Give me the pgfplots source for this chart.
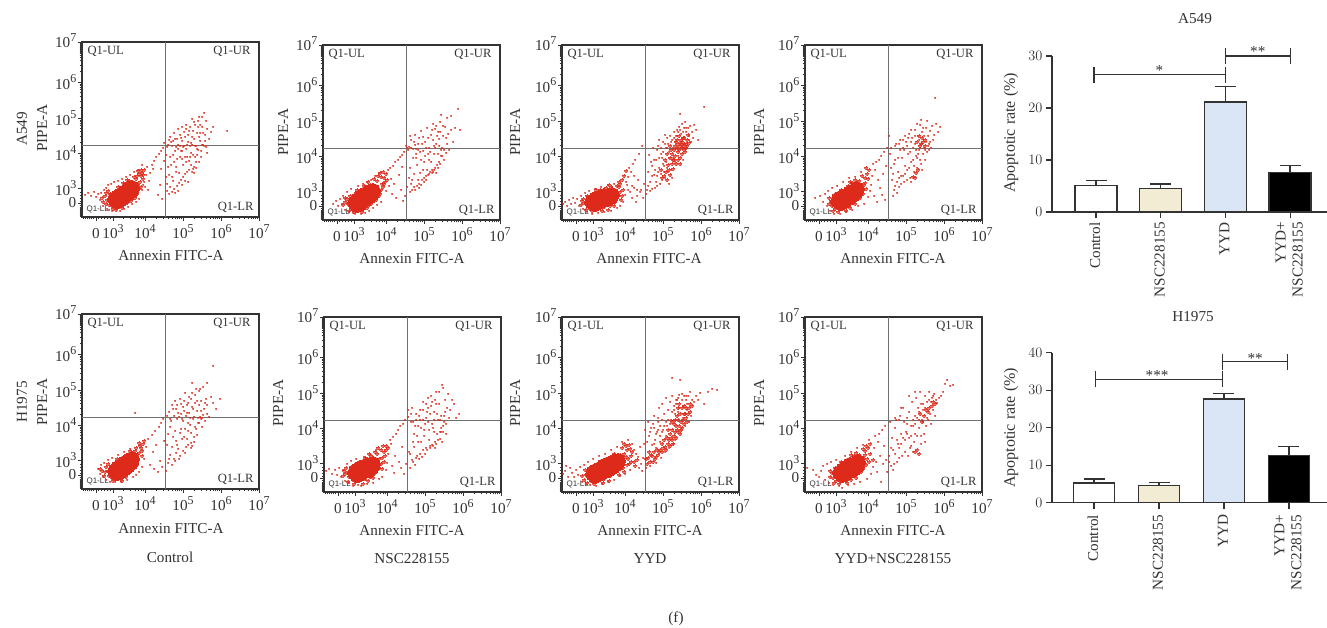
\documentclass[border=0pt]{standalone}
\usepackage{pgfplots}
\pgfplotsset{compat=1.18}
\usepackage{fontspec}
\setmainfont{Liberation Serif}
\setsansfont{Liberation Sans}
\definecolor{ink}{HTML}{333333}
\definecolor{gate}{HTML}{707070}
\definecolor{fcs}{HTML}{DE2A1A}
\definecolor{beige}{HTML}{F2ECD5}
\definecolor{pale}{HTML}{DAE6F5}
\newcommand\tp[1]{10\raisebox{0.42em}{\fontsize{12}{12}\selectfont #1}}
\newcommand\lab{\fontsize{15.2}{17}\selectfont}
% Flow-cytometry display scale: one unit = one pixel along the biexponential axis.
% #1 left, #2 bottom (y up), #3 dense core, #4 dense fringe, #5 scattered events
\newcommand\panel[5]{%
\begin{axis}[at={(#1pt,#2pt)},anchor=south west,scale only axis,width=177pt,height=175pt,
 xmin=0,xmax=177,ymin=0,ymax=175,axis line style={ink,line width=1.3pt},
 tick pos=left,tick align=outside,tick style={ink,line width=.8pt},
 major tick length=4pt,minor tick length=2.5pt,
 xtick={14,31,63,101,139,177},xticklabels={0,\tp3,\tp4,\tp5,\tp6,\tp7},
 ytick={14,29,64,99,135,175},yticklabels={0,\tp3,\tp4,\tp5,\tp6,\raisebox{3pt}{\tp7}},
 minor xtick={1,3,5,7,9,11,16,19,22,25,28,41,48,53,56,59,61,74,81,86,90,93,95,97,99,112,119,124,128,131,133,135,137,150,157,162,166,169,171,173,175},
 minor ytick={1,2,3,4,5,6,7,8,9,10,12,16,19,22,25,40,46,51,54,57,59,61,62,75,81,86,89,92,94,96,97,110,116,121,125,128,130,132,133,146,152,157,160,162,164,165,166,167,168,169,170,171,172,173,174},
 ticklabel style={font=\lab,text=ink},
 tick label style={inner sep=1.5pt},
 xticklabel style={anchor=base,yshift=-18pt},
 clip=true]
\addplot[only marks,color=fcs,mark=*,mark size=7.3pt,mark options={fill=fcs,line width=0pt}] coordinates {#3};
\addplot[only marks,color=fcs,opacity=.7,mark=*,mark size=1.4pt,mark options={fill=fcs,line width=0pt}] coordinates {#4};
\addplot[only marks,color=fcs,opacity=.45,mark=*,mark size=.7pt,mark options={fill=fcs,line width=0pt}] coordinates {#5};
\addplot[gate,line width=1pt] coordinates {(83,0)(83,175)};
\addplot[gate,line width=1pt] coordinates {(0,71)(177,71)};
\node[font=\fontsize{12.6}{14}\selectfont,text=ink,anchor=west] at (axis cs:2,166) {Q1-UL};
\node[font=\fontsize{12.6}{14}\selectfont,text=ink,anchor=east] at (axis cs:172,166) {Q1-UR};
\node[font=\fontsize{12.6}{14}\selectfont,text=ink,anchor=east] at (axis cs:175,10) {Q1-LR};
\node[font=\sffamily\fontsize{8}{9}\selectfont,text=ink,anchor=west] at (axis cs:1,8) {Q1-LL};
\end{axis}}
\begin{document}
\begin{tikzpicture}[x=1pt,y=1pt]
\path[use as bounding box] (0,0) rectangle (1327,628);
% A549 row
\panel{82}{411}
{(33,18)(35,16)(36,20)(38,17)(39,22)(42,20)(43,25)(46,23)(47,28)(49,26)(50,29)}
{(27,12)(25,17)(28,23)(30,11)(34,26)(37,10)(38,28)(42,13)(43,33)(47,17)(47,36)(50,20)(54,38)(55,23)(57,28)(58,35)(59,41)(60,44)(57,43)(61,38)(55,41)(53,19)(21,15)(23,21)(62,47)(59,47)(24,13)(26,26)(31,8)(36,30)(40,9)(41,34)(45,14)(45,37)(49,16)(52,40)(53,24)(56,32)(59,30)(61,42)(56,46)(20,19)(24,24)(34,7)}
{(3,22)(6,24)(9,21)(12,25)(14,20)(16,23)(18,17)(19,24)(21,11)(22,27)(24,29)(25,8)(26,32)(27,7)(29,33)(30,6)(32,35)(34,8)(36,36)(38,6)(40,38)(42,8)(44,40)(46,10)(48,42)(50,13)(52,45)(54,15)(56,47)(57,18)(60,27)(61,32)(63,30)(64,42)(65,50)(62,35)(60,52)(66,27)(68,44)(70,52)(67,36)(72,56)(74,60)(71,48)(76,22)(77,63)(78,32)(79,66)(80,18)(81,69)(79,48)(82,56)(84,40)(85,26)(86,72)(87,23)(88,30)(89,75)(90,25)(91,62)(92,28)(93,78)(94,50)(95,31)(96,72)(97,34)(98,82)(99,37)(100,58)(101,40)(102,85)(103,43)(104,68)(105,45)(106,75)(107,47)(108,90)(109,52)(110,80)(111,62)(112,95)(113,71)(114,55)(115,84)(116,67)(117,100)(118,76)(119,60)(120,90)(121,72)(122,104)(123,82)(124,70)(125,88)(127,78)(129,85)(131,90)(145,86)(82,74)(85,70)(88,80)(90,71)(92,84)(94,70)(96,88)(98,71)(100,76)(102,71)(104,92)(106,82)(108,71)(110,72)(112,78)(114,71)(116,90)(118,92)(120,72)(122,71)(98,60)(100,66)(104,55)(108,60)(112,50)(90,40)(94,45)(86,50)(88,60)(92,55)(96,68)(84,62)(106,35)(87,77)(91,76)(95,78)(99,79)(103,80)(107,86)(111,86)(113,92)(118,84)(101,52)(109,64)(115,62)(117,55)(105,60)(85,33)(87,42)(89,52)(91,36)(93,66)(95,58)(97,44)(99,66)(101,70)(103,60)(105,72)(107,56)(109,74)(111,48)(113,60)(115,68)(117,80)(119,66)(121,84)(123,76)(125,64)(93,24)(96,26)(100,32)(103,36)(110,45)(112,44)(114,49)(116,96)(110,98)(104,88)(100,90)(124,96)(120,100)}
\panel{323}{408}
{(32,17)(34,15)(35,20)(37,16)(38,23)(41,20)(43,26)(46,23)(47,28)(49,26)(50,29)}
{(25,16)(24,21)(27,24)(29,11)(33,27)(36,10)(38,30)(41,13)(43,33)(46,15)(47,35)(50,19)(54,39)(56,24)(58,30)(59,36)(61,42)(63,46)(58,43)(61,36)(55,44)(53,20)(22,18)(60,33)(64,40)(60,48)(20,15)(22,22)(26,9)(31,8)(34,30)(39,8)(41,34)(44,12)(45,38)(48,16)(51,41)(52,23)(55,31)(57,26)(62,38)(57,47)}
{(10,16)(13,19)(15,14)(17,21)(19,16)(20,24)(22,10)(24,28)(26,8)(28,31)(30,7)(32,6)(35,34)(38,6)(40,36)(42,7)(44,38)(46,9)(48,40)(50,12)(52,44)(54,15)(56,47)(58,18)(63,29)(66,34)(65,50)(67,52)(68,41)(69,26)(70,54)(71,36)(72,58)(73,22)(75,60)(76,45)(77,63)(78,30)(79,65)(80,19)(81,68)(79,53)(82,24)(83,74)(84,72)(85,70)(84,33)(86,73)(87,28)(88,80)(89,30)(90,71)(91,33)(92,85)(93,62)(94,34)(95,76)(96,36)(97,47)(98,89)(99,40)(100,69)(101,42)(102,78)(103,44)(104,92)(105,45)(106,60)(107,48)(108,85)(109,50)(110,96)(111,66)(112,52)(113,76)(114,55)(115,88)(116,58)(117,98)(118,64)(119,72)(120,84)(121,60)(122,93)(123,67)(124,76)(125,86)(126,70)(128,90)(130,78)(132,92)(135,111)(137,90)(124,102)(128,104)(118,105)(100,83)(92,75)(96,82)(88,72)(90,62)(94,55)(98,60)(102,64)(106,72)(108,58)(112,72)(114,84)(116,74)(93,71)(87,52)(91,46)(89,40)(105,82)(110,80)(112,91)(120,94)(116,81)(100,50)(95,40)(104,50)(113,47)(110,48)(118,70)(86,42)(88,36)(92,30)(96,32)(98,35)(101,38)(103,40)(106,46)(109,47)(111,50)(115,52)(117,56)(119,64)(121,70)(115,66)(111,74)(107,68)(103,72)(99,76)(95,70)(91,78)(87,84)(93,66)(97,68)(101,58)(105,66)(109,90)(113,94)(117,88)(123,82)}
\panel{562}{408}
{(30,18)(33,16)(34,21)(37,18)(38,22)(41,20)(42,24)(45,21)(46,24)(49,23)(50,25)}
{(22,17)(21,21)(25,24)(28,11)(32,27)(36,12)(38,30)(42,13)(44,32)(48,14)(49,33)(53,18)(57,33)(60,24)(61,30)(58,36)(60,40)(62,44)(64,49)(57,38)(102,44)(105,40)(108,45)(111,51)(114,56)(116,60)(118,62)(120,66)(122,70)(124,76)(125,80)(127,77)(118,74)(115,72)(112,70)(120,78)(122,82)(110,66)(114,78)(117,84)(124,72)(126,85)(108,62)(106,55)(112,60)(116,68)(113,64)(118,56)(110,56)(105,66)(108,74)(120,72)(116,76)(122,76)(123,68)(119,80)(19,15)(20,19)(24,10)(30,9)(34,30)(40,9)(46,10)(47,35)(52,14)(55,34)(59,20)(58,28)(113,74)(115,80)(119,76)(121,74)(117,70)(111,60)(107,50)(104,48)(100,42)(121,82)(125,74)(109,70)(103,60)(99,50)}
{(1,16)(3,18)(5,14)(7,20)(9,16)(11,22)(13,17)(15,21)(17,14)(19,24)(21,11)(23,27)(25,8)(27,29)(30,6)(33,31)(36,7)(39,33)(42,8)(46,35)(49,9)(52,36)(55,12)(58,14)(61,18)(63,25)(65,35)(66,43)(67,52)(68,28)(69,48)(70,22)(71,56)(72,32)(73,60)(74,18)(75,24)(76,40)(77,66)(78,28)(79,30)(80,74)(81,22)(82,36)(84,26)(85,30)(86,48)(87,65)(88,29)(89,58)(90,31)(91,72)(92,45)(93,32)(94,60)(95,34)(96,74)(97,52)(98,36)(99,66)(100,40)(101,78)(102,54)(103,42)(104,72)(105,82)(106,48)(107,62)(108,84)(109,50)(110,80)(111,72)(112,88)(113,58)(114,84)(115,90)(116,64)(117,93)(118,78)(119,86)(120,96)(121,60)(122,92)(123,98)(124,88)(125,72)(126,92)(127,84)(128,94)(129,78)(130,88)(131,82)(134,90)(136,80)(142,113)(118,106)(132,95)(100,62)(95,70)(92,60)(97,80)(103,85)(90,44)(96,48)(99,46)(101,56)(104,58)(106,76)(109,78)(111,62)(113,78)(115,84)(107,36)(110,42)(88,38)(86,34)(94,38)(64,38)(66,30)(70,34)(72,44)(75,30)(90,54)(93,50)(95,44)(97,62)(99,72)(101,68)(103,76)(105,72)(107,68)(102,48)(105,52)(112,82)(116,88)(118,90)(121,88)(124,92)(127,80)}
\panel{805}{408}
{(33,19)(36,17)(36,22)(39,19)(40,24)(44,22)(45,27)(48,25)(49,29)(51,28)(52,31)}
{(27,14)(26,19)(29,25)(30,11)(34,27)(37,11)(39,30)(43,14)(43,34)(48,17)(47,37)(52,21)(54,39)(58,26)(61,31)(60,37)(60,42)(62,46)(57,44)(64,50)(61,52)(63,41)(108,43)(111,47)(115,74)(118,78)(112,78)(120,74)(110,42)(113,50)(117,82)(120,80)(24,16)(24,22)(28,9)(33,8)(36,30)(41,9)(45,12)(45,38)(50,16)(50,40)(55,22)(57,30)(59,35)(116,76)(114,84)}
{(10,22)(15,24)(18,18)(20,26)(22,14)(23,29)(25,9)(27,32)(29,6)(32,34)(35,6)(38,38)(41,8)(44,42)(47,10)(50,43)(53,14)(56,48)(59,16)(63,23)(65,29)(66,35)(67,44)(68,56)(69,24)(70,50)(71,58)(72,18)(73,40)(74,60)(75,32)(76,64)(77,25)(78,46)(79,68)(80,20)(81,54)(82,72)(84,84)(85,66)(86,72)(87,40)(88,24)(89,30)(90,60)(91,76)(92,27)(93,48)(94,33)(95,70)(96,36)(97,62)(98,80)(99,38)(100,54)(101,78)(102,40)(103,66)(104,86)(105,42)(106,58)(107,82)(108,72)(109,48)(110,90)(111,64)(112,52)(113,84)(114,70)(115,95)(116,56)(117,88)(118,66)(119,72)(120,60)(121,92)(122,68)(123,84)(124,76)(125,89)(126,72)(127,94)(128,80)(129,85)(131,96)(130,122)(135,93)(133,88)(116,100)(122,99)(112,96)(118,92)(100,84)(95,80)(90,74)(94,76)(98,72)(102,74)(106,78)(110,76)(114,80)(108,60)(112,62)(115,60)(105,68)(100,46)(96,44)(92,38)(88,46)(120,70)(117,50)(124,70)(110,84)(106,90)(86,52)(90,34)(94,42)(98,44)(102,50)(104,52)(106,38)(109,54)(111,70)(113,66)(115,72)(117,76)(119,84)(121,78)(123,74)(125,78)(103,82)(99,70)(93,62)(89,56)}
% H1975 row
\panel{82}{139}
{(33,18)(35,16)(36,21)(38,17)(39,23)(42,20)(43,26)(46,23)(47,28)(49,26)(50,30)}
{(27,13)(26,18)(29,23)(30,11)(33,26)(36,10)(38,28)(42,13)(42,32)(46,16)(47,35)(50,20)(53,38)(55,24)(56,30)(57,36)(59,41)(61,45)(58,43)(60,38)(54,41)(23,17)(24,22)(62,48)(20,18)(22,13)(26,25)(31,8)(35,30)(40,8)(44,34)(44,12)(48,38)(48,17)(52,22)(55,34)(60,33)(57,46)(18,20)}
{(16,20)(18,15)(19,24)(21,12)(22,26)(24,9)(26,29)(28,7)(30,31)(33,7)(36,34)(39,7)(42,37)(45,9)(48,40)(51,12)(54,14)(57,17)(60,22)(62,30)(64,42)(66,50)(68,24)(70,54)(71,37)(72,20)(73,58)(74,44)(76,17)(77,62)(78,28)(79,66)(80,22)(81,70)(82,48)(84,18)(85,73)(86,26)(87,77)(88,34)(89,68)(90,24)(91,80)(92,30)(93,58)(94,36)(95,84)(96,40)(97,72)(98,33)(99,85)(100,50)(101,38)(102,88)(103,60)(104,42)(105,76)(106,44)(107,92)(108,64)(109,46)(110,82)(111,70)(112,52)(113,94)(114,60)(115,78)(116,66)(117,98)(118,72)(119,88)(120,62)(121,102)(122,80)(123,68)(124,90)(125,75)(127,72)(129,92)(131,123)(134,80)(138,90)(131,86)(125,106)(110,106)(103,96)(93,88)(96,76)(100,70)(104,73)(108,71)(112,72)(116,71)(120,71)(88,70)(92,73)(95,70)(99,75)(101,82)(105,84)(109,90)(113,86)(117,84)(98,56)(102,52)(106,58)(110,43)(109,41)(112,47)(90,42)(94,48)(86,55)(53,76)(88,62)(106,66)(115,54)(119,70)(85,44)(87,30)(91,52)(93,28)(95,44)(97,30)(99,60)(101,68)(103,36)(105,50)(107,76)(109,56)(111,80)(113,62)(115,88)(117,66)(119,78)(121,74)(123,86)(125,84)(90,84)(94,80)(98,90)(102,78)(106,86)(110,96)(114,100)(118,100)}
\panel{324}{136}
{(31,19)(33,17)(34,22)(36,18)(37,24)(40,21)(42,26)(45,22)(46,27)(48,25)(49,28)}
{(25,15)(24,20)(27,25)(29,12)(32,28)(35,11)(38,30)(41,13)(43,33)(46,15)(47,36)(50,18)(53,38)(55,24)(57,28)(58,34)(60,40)(62,46)(57,42)(60,30)(54,44)(21,18)(22,24)(62,42)(64,44)(59,46)(19,16)(20,21)(24,10)(30,8)(35,30)(39,8)(41,34)(44,11)(45,38)(49,14)(51,40)(52,20)(55,33)(58,23)(61,36)}
{(2,21)(5,23)(8,18)(11,22)(13,17)(15,24)(17,15)(19,22)(21,11)(23,28)(25,9)(27,31)(29,6)(32,33)(34,7)(37,6)(40,35)(43,8)(46,38)(49,9)(52,42)(55,13)(58,15)(62,22)(63,29)(64,38)(66,52)(67,48)(68,26)(69,55)(70,19)(71,36)(72,58)(74,62)(75,30)(76,66)(77,24)(78,45)(79,68)(80,18)(81,72)(82,28)(84,75)(85,40)(86,24)(87,70)(88,84)(89,30)(90,58)(91,27)(92,78)(93,36)(94,66)(95,33)(96,82)(97,50)(98,35)(99,90)(100,62)(101,38)(102,74)(103,42)(104,84)(105,52)(106,44)(107,96)(108,68)(109,46)(110,80)(111,50)(112,100)(113,58)(114,72)(115,88)(116,53)(117,64)(118,107)(119,60)(120,76)(121,92)(122,68)(123,84)(124,98)(125,74)(126,82)(128,92)(130,88)(132,74)(135,78)(119,104)(112,88)(106,78)(102,88)(96,72)(92,72)(89,70)(87,78)(84,82)(99,72)(104,70)(110,72)(116,72)(120,70)(94,50)(100,56)(110,60)(116,60)(112,48)(86,38)(90,45)(104,94)(108,90)(115,100)(122,58)(118,50)(88,32)(92,34)(96,38)(99,42)(102,44)(106,46)(108,47)(111,44)(114,52)(117,60)(119,66)(121,80)(117,76)(113,78)(109,64)(105,62)(101,68)(97,64)(93,56)(89,50)(91,66)(95,76)(99,82)(103,80)(107,86)(111,92)}
\panel{562}{136}
{(31,18)(33,16)(34,21)(37,18)(38,23)(41,20)(42,26)(46,22)(47,28)(51,25)(52,30)(55,28)(56,31)}
{(24,17)(23,22)(27,24)(29,11)(33,27)(36,11)(38,30)(42,13)(44,33)(48,16)(50,36)(54,20)(58,37)(61,24)(65,27)(66,33)(69,36)(62,38)(65,42)(60,44)(62,48)(67,47)(70,40)(72,30)(75,32)(73,26)(85,28)(86,34)(88,30)(90,36)(93,33)(96,37)(98,42)(100,40)(103,45)(106,48)(108,46)(110,52)(112,56)(114,54)(116,60)(118,58)(120,64)(122,68)(119,70)(124,74)(126,78)(128,80)(122,78)(118,78)(116,72)(112,68)(110,62)(108,58)(114,66)(120,84)(124,84)(128,88)(130,86)(117,88)(105,54)(102,52)(100,48)(95,42)(92,40)(89,37)(106,62)(110,70)(20,16)(22,12)(25,9)(32,8)(41,9)(47,11)(52,38)(57,17)(62,20)(67,28)(64,35)(69,30)(68,43)(64,46)(84,33)(87,40)(91,30)(94,35)(97,40)(101,44)(104,42)(107,52)(109,54)(111,48)(113,60)(115,62)(117,66)(119,62)(121,72)(123,78)(125,70)(127,84)(115,76)(113,72)(116,84)(122,86)}
{(1,18)(3,21)(4,26)(6,15)(8,24)(10,19)(12,15)(14,22)(16,17)(18,25)(20,10)(22,27)(24,8)(26,30)(28,7)(31,33)(34,6)(37,36)(40,8)(43,38)(46,10)(49,42)(52,12)(55,45)(58,16)(60,50)(63,18)(66,52)(68,22)(70,48)(72,42)(74,38)(76,35)(77,24)(78,45)(79,28)(80,21)(81,34)(82,48)(83,62)(84,24)(85,50)(86,70)(87,56)(88,26)(89,64)(90,47)(91,68)(92,76)(93,52)(94,29)(95,60)(96,74)(97,84)(98,56)(99,34)(100,88)(101,62)(102,78)(103,40)(104,94)(105,66)(106,82)(107,44)(108,90)(109,72)(110,96)(111,48)(112,82)(113,52)(114,88)(115,92)(116,80)(117,97)(118,112)(119,62)(120,92)(121,74)(122,96)(123,66)(124,92)(125,88)(126,96)(127,70)(128,100)(129,76)(130,92)(132,90)(134,96)(136,92)(138,99)(142,88)(146,100)(150,103)(155,102)(110,114)(100,72)(96,70)(92,64)(88,60)(94,44)(98,50)(104,56)(113,78)(117,84)(121,86)(125,82)(92,48)(94,58)(96,62)(98,66)(100,60)(102,66)(104,70)(106,72)(108,68)(110,80)(112,86)(114,92)(116,94)(120,98)(124,96)}
\panel{805}{136}
{(35,19)(37,17)(38,22)(40,18)(41,24)(45,21)(45,27)(49,23)(50,28)(52,26)(53,30)}
{(28,14)(27,19)(30,24)(31,11)(35,27)(38,11)(39,30)(43,14)(44,33)(48,16)(49,36)(53,19)(54,37)(58,23)(61,27)(62,33)(60,37)(60,41)(63,44)(65,48)(58,43)(65,38)(68,32)(64,30)(130,88)(127,86)(124,84)(128,90)(121,82)(119,76)(115,78)(112,42)(114,38)(25,15)(25,21)(29,9)(34,8)(36,30)(42,9)(46,12)(46,37)(51,14)(51,39)(56,20)(58,34)(61,46)(123,80)(117,70)(110,40)}
{(2,24)(8,22)(11,17)(14,15)(16,21)(18,26)(20,12)(22,28)(24,9)(26,30)(28,7)(31,32)(34,6)(37,4)(40,36)(43,7)(46,40)(49,8)(52,44)(55,10)(58,47)(62,13)(64,52)(66,18)(68,25)(69,44)(70,56)(71,30)(72,20)(73,50)(74,58)(75,36)(76,10)(77,62)(78,28)(79,46)(80,66)(81,32)(82,20)(84,36)(85,70)(86,26)(87,54)(88,22)(89,28)(90,64)(91,72)(92,30)(93,48)(94,34)(95,76)(96,58)(97,36)(98,84)(99,70)(100,40)(101,60)(102,74)(103,36)(104,80)(105,44)(106,66)(107,90)(108,40)(109,50)(110,76)(111,94)(112,56)(113,84)(114,64)(115,100)(116,48)(117,72)(118,88)(119,58)(120,96)(121,66)(122,90)(123,72)(124,100)(125,78)(126,68)(127,94)(128,82)(129,98)(130,76)(131,92)(132,89)(134,94)(136,96)(138,100)(140,108)(142,112)(145,106)(148,107)(110,100)(104,96)(96,84)(90,74)(94,72)(102,68)(108,72)(114,72)(118,70)(106,56)(110,58)(116,56)(120,50)(98,54)(88,42)(84,30)(86,44)(90,38)(92,52)(94,44)(96,48)(100,52)(102,58)(104,54)(106,46)(108,66)(110,68)(112,74)(114,80)(116,88)(118,82)(120,84)(122,74)(124,92)(126,90)(128,96)}
% row text
\foreach \x/\y/\r/\t in {42/128/90/PIPE-A,22/129/90/A549,283/132/90/PIPE-A,515/132/90/PIPE-A,759/132/90/PIPE-A,42/402/90/PIPE-A,22/402/90/H1975,278/403/90/PIPE-A,515/403/90/PIPE-A,759/403/90/PIPE-A,171/256/0/Annexin FITC-A,412/259/0/Annexin FITC-A,649/259/0/Annexin FITC-A,893/259/0/Annexin FITC-A,171/529/0/Annexin FITC-A,412/531/0/Annexin FITC-A,650/531/0/Annexin FITC-A,893/531/0/Annexin FITC-A,170/557/0/Control,412/559/0/NSC228155,650/559/0/YYD,893/559/0/YYD+NSC228155,676/619/0/(f),1195/19/0/A549,1193/317/0/H1975}
 {\pgfmathsetmacro\yy{628-\y}\node[font=\lab,text=ink,rotate=\r,inner sep=0pt] at (\x,\yy) {\t};}
\node[font=\fontsize{16}{18}\selectfont,text=ink,rotate=90,inner sep=0pt] at (1011,495) {Apoptotic rate (\%)};
\node[font=\fontsize{16}{18}\selectfont,text=ink,rotate=90,inner sep=0pt] at (1011,200) {Apoptotic rate (\%)};
% A549 bars
\begin{axis}[at={(1052pt,416pt)},anchor=south west,scale only axis,width=275pt,height=156pt,
 xmin=-0.68,xmax=3.57,ymin=0,ymax=30,clip=false,
 axis x line=bottom,axis y line=left,axis line style={-,ink,line width=1.3pt},
 tick style={ink,line width=1.1pt},tick align=outside,major tick length=6pt,
 xtick={0,1,2,3},xticklabels={Control,NSC228155,YYD,YYD+\\NSC228155},
 xticklabel style={rotate=90,anchor=east,align=right,font=\lab,text=ink,inner sep=2pt,xshift=-2pt,yshift=1pt},
 ytick={0,10,20,30},yticklabel style={font=\lab,text=ink},
 ybar,bar width=42pt,
 error bars/y dir=plus,error bars/y explicit,
 error bars/error bar style={ink,line width=1.3pt},
 error bars/error mark options={ink,line width=1.3pt,mark size=10.5pt,rotate=90}]
\addplot[bar shift=0pt,draw=ink,line width=1.5pt,fill=white] coordinates {(0,5.1) +- (0,0.9)};
\addplot[bar shift=0pt,draw=ink,line width=1.5pt,fill=beige] coordinates {(1,4.5) +- (0,0.9)};
\addplot[bar shift=0pt,draw=ink,line width=1.5pt,fill=pale] coordinates {(2,21.2) +- (0,2.9)};
\addplot[bar shift=0pt,draw=ink,line width=1.5pt,fill=black] coordinates {(3,7.55) +- (0,1.35)};
\addplot[sharp plot,ink,line width=1.2pt] coordinates {(-0.03,24.9)(-0.03,27.9)};
\addplot[sharp plot,ink,line width=1.2pt] coordinates {(-0.03,26.4)(2.005,26.4)};
\addplot[sharp plot,ink,line width=1.2pt] coordinates {(2.005,24.9)(2.005,27.9)};
\addplot[sharp plot,ink,line width=1.2pt] coordinates {(2.0,28.5)(2.0,31.5)};
\addplot[sharp plot,ink,line width=1.2pt] coordinates {(2.0,30)(3.01,30)};
\addplot[sharp plot,ink,line width=1.2pt] coordinates {(3.01,28.5)(3.01,31.5)};
\node[font=\lab,text=ink] at (axis cs:0.98,27.3) {*};
\node[font=\lab,text=ink] at (axis cs:2.5,30.9) {**};
\end{axis}
% H1975 bars
\begin{axis}[at={(1052pt,125.3pt)},anchor=south west,scale only axis,width=275pt,height=150pt,
 xmin=-0.646,xmax=3.585,ymin=0,ymax=40,clip=false,
 axis x line=bottom,axis y line=left,axis line style={-,ink,line width=1.3pt},
 tick style={ink,line width=1.1pt},tick align=outside,major tick length=6pt,
 xtick={0,1,2,3},xticklabels={Control,NSC228155,YYD,YYD+\\NSC228155},
 xticklabel style={rotate=90,anchor=east,align=right,font=\lab,text=ink,inner sep=2pt,xshift=-4pt,yshift=1pt},
 ytick={0,10,20,30,40},yticklabel style={font=\lab,text=ink},
 ybar,bar width=41pt,
 error bars/y dir=plus,error bars/y explicit,
 error bars/error bar style={ink,line width=1.3pt},
 error bars/error mark options={ink,line width=1.3pt,mark size=10.5pt,rotate=90}]
\addplot[bar shift=0pt,draw=ink,line width=1.5pt,fill=white] coordinates {(0,5.2) +- (0,1.1)};
\addplot[bar shift=0pt,draw=ink,line width=1.5pt,fill=beige] coordinates {(1,4.6) +- (0,0.7)};
\addplot[bar shift=0pt,draw=ink,line width=1.5pt,fill=pale] coordinates {(2,27.6) +- (0,1.5)};
\addplot[bar shift=0pt,draw=ink,line width=1.5pt,fill=black] coordinates {(3,12.6) +- (0,2.3)};
\addplot[sharp plot,ink,line width=1.2pt] coordinates {(0.02,30.8)(0.02,35)};
\addplot[sharp plot,ink,line width=1.2pt] coordinates {(0.02,32.9)(1.98,32.9)};
\addplot[sharp plot,ink,line width=1.2pt] coordinates {(1.98,30.8)(1.98,35)};
\addplot[sharp plot,ink,line width=1.2pt] coordinates {(1.98,35.5)(1.98,39.7)};
\addplot[sharp plot,ink,line width=1.2pt] coordinates {(1.98,37.6)(2.98,37.6)};
\addplot[sharp plot,ink,line width=1.2pt] coordinates {(2.98,35.5)(2.98,39.7)};
\node[font=\lab,text=ink] at (axis cs:0.97,33.9) {***};
\node[font=\lab,text=ink] at (axis cs:2.48,38.4) {**};
\end{axis}
\end{tikzpicture}
\end{document}
